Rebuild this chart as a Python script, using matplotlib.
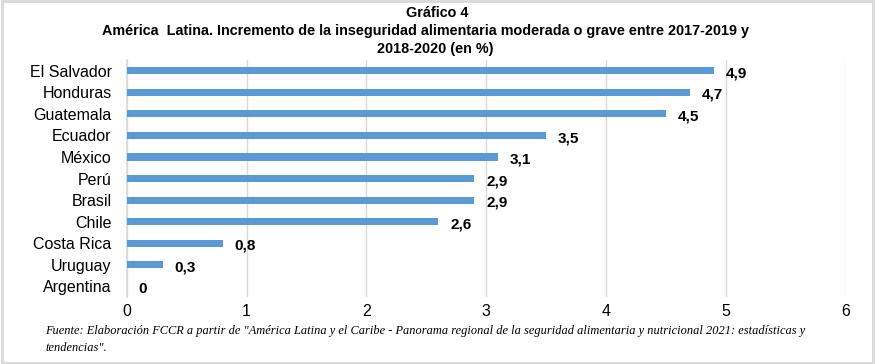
import matplotlib
matplotlib.use("Agg")
import matplotlib.pyplot as plt
from matplotlib.patches import Rectangle
from matplotlib import font_manager

countries = ["El Salvador", "Honduras", "Guatemala", "Ecuador", "México", "Perú",
             "Brasil", "Chile", "Costa Rica", "Uruguay", "Argentina"]
values = [4.9, 4.7, 4.5, 3.5, 3.1, 2.9, 2.9, 2.6, 0.8, 0.3, 0.0]
labels = ["4,9", "4,7", "4,5", "3,5", "3,1", "2,9", "2,9", "2,6", "0,8", "0,3", "0"]
xticks = [0, 1, 2, 3, 4, 5, 6]

names = {f.name for f in font_manager.fontManager.ttflist}
narrow = "Liberation Sans Narrow" if "Liberation Sans Narrow" in names else "Liberation Sans"

fig = plt.figure(figsize=(8.75, 3.64), dpi=100)
ax = fig.add_axes([0.145, 0.184, 0.821, 0.651])

ypos = list(range(len(countries)))
ax.barh(ypos, values, height=0.33, color="#5B9BD5", zorder=3)
for y, v, l in zip(ypos, values, labels):
    ax.text(v + 0.1, y + 0.12, l, va="center", ha="left", fontsize=11, fontweight="bold",
            family="Liberation Sans", color="black")

ax.set_xlim(0, 6)
ax.set_ylim(len(countries) - 0.5, -0.5)
ax.set_yticks(ypos)
ax.set_yticklabels(countries, family="Liberation Sans", fontsize=11.5)
ax.set_xticks(xticks)
ax.set_xticklabels([str(t) for t in xticks], family=narrow, fontsize=11.5)
ax.tick_params(axis="y", length=0, pad=11)
ax.tick_params(axis="x", length=0, pad=5)
ax.grid(axis="x", color="#d9d9d9", linewidth=1, zorder=0)
for s in ["top", "right", "bottom"]:
    ax.spines[s].set_visible(False)
ax.spines["left"].set_color("#d9d9d9")
ax.spines["left"].set_linewidth(1.2)

fig.text(0.5, 0.965, "Gráfico 4", ha="center", va="center", fontsize=10.4, fontweight="bold", family=narrow)
fig.text(0.486, 0.915, "América  Latina. Incremento de la inseguridad alimentaria moderada o grave entre 2017-2019 y",
         ha="center", va="center", fontsize=10.4, fontweight="bold", family=narrow)
fig.text(0.497, 0.865, "2018-2020 (en %)", ha="center", va="center", fontsize=10.4, fontweight="bold", family=narrow)

fig.text(0.052, 0.09, "Fuente: Elaboración FCCR a partir de \"América Latina y el Caribe - Panorama regional de la seguridad alimentaria y nutricional 2021: estadísticas y",
         ha="left", va="center", fontsize=8.9, style="italic", family="Liberation Serif")
fig.text(0.052, 0.045, "tendencias\".", ha="left", va="center", fontsize=8.9, style="italic", family="Liberation Serif")

fig.patches.append(Rectangle((0.002, 0.004), 0.996, 0.992, transform=fig.transFigure,
                             fill=False, edgecolor="#d9d9d9", linewidth=2))

fig.savefig("out.png", dpi=100)
